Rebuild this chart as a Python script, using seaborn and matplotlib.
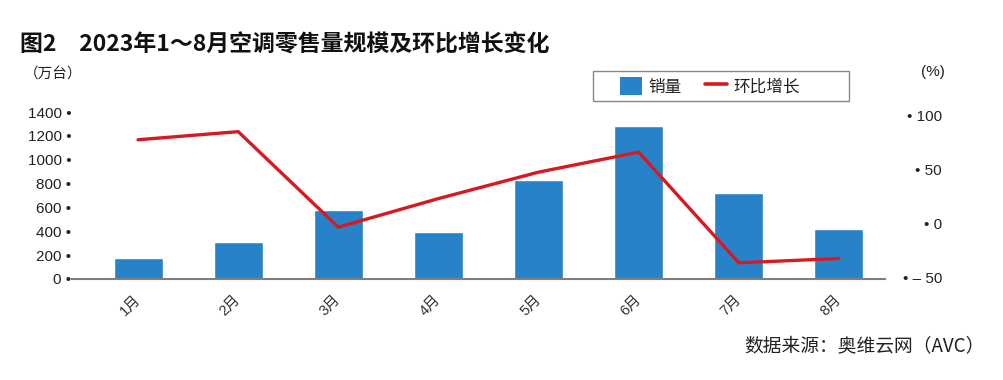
import numpy as np
import pandas as pd
import seaborn as sns
import matplotlib.pyplot as plt
from matplotlib.patches import Patch, Rectangle
from matplotlib.lines import Line2D

# Data
months = ["1月", "2月", "3月", "4月", "5月", "6月", "7月", "8月"]
sales = [175, 308, 575, 392, 833, 1283, 717, 417]      # 万台
mom_growth = [78, 85.5, -3, 23.5, 48, 66.5, -36, -32]   # %
left_ticks = [0, 200, 400, 600, 800, 1000, 1200, 1400]
right_ticks = [-50, 0, 50, 100]
right_labels = ["– 50", "0", "50", "100"]

df = pd.DataFrame({"month": months, "sales": sales, "mom": mom_growth})

blue = "#2882C8"
red = "#D71A22"

sns.set_theme(style="white")
plt.rcParams["font.family"] = ["Liberation Sans", "Noto Sans CJK SC", "DejaVu Sans"]

fig = plt.figure(figsize=(10.04, 3.8), dpi=100)
ax = fig.add_axes([72 / 1004, 101 / 380, 813 / 1004, 167 / 380])

# Bars: retail volume
sns.barplot(data=df, x="month", y="sales", color=blue, saturation=1,
            width=0.49, errorbar=None, ax=ax)
ax.set_xlim(-0.66, 7.46)
ax.set_ylim(0, 1400)
ax.set_yticks(left_ticks)
ax.set_yticklabels([f"{t} •" for t in left_ticks], fontsize=11, color="#222222")
ax.tick_params(axis="y", length=0, pad=0.5)
ax.set_xticks(range(len(months)))
ax.set_xticklabels(months, rotation=45, ha="right", va="center",
                   rotation_mode="anchor", fontsize=10.5, color="#333333")
ax.tick_params(axis="x", length=0, pad=13)
ax.set_xlabel("")
ax.set_ylabel("")
for side in ["left", "right", "top"]:
    ax.spines[side].set_visible(False)
ax.spines["bottom"].set_color("#808080")
ax.spines["bottom"].set_linewidth(1.5)

# Line: month-on-month growth on the right axis
ax2 = ax.twinx()
sns.lineplot(x=np.arange(len(months)), y=df["mom"], color=red, linewidth=2.4, ax=ax2)
ax2.set_ylim(-51, 103.7)
ax2.set_yticks(right_ticks)
ax2.set_yticklabels([f"• {l}" for l in right_labels], fontsize=11, color="#222222")
for lab in ax2.get_yticklabels():
    lab.set_ha("right")
ax2.tick_params(axis="y", length=0, pad=41)
ax2.set_ylabel("")
for side in ["left", "right", "top", "bottom"]:
    ax2.spines[side].set_visible(False)

# Texts
fig.text(20 / 1004, 1 - 45 / 380, "图2　2023年1～8月空调零售量规模及环比增长变化",
         fontsize=16.5, fontweight="bold", va="center", color="#111111",
         family=["Noto Sans CJK SC", "DejaVu Sans"])
fig.text(24 / 1004, 1 - 75 / 380, "（万台）", fontsize=10.5, va="center", color="#222222",
         family=["Noto Sans CJK SC", "DejaVu Sans"])
fig.text(945 / 1004, 1 - 72 / 380, "(%)", fontsize=11, va="center", ha="right", color="#222222")
fig.text(985 / 1004, 1 - 347 / 380, "数据来源：奥维云网（AVC）", fontsize=13.5, va="center",
         ha="right", color="#222222", family=["Noto Sans CJK SC", "DejaVu Sans"])

# Legend (frame drawn separately so the padding matches the reference)
handles = [Patch(facecolor=blue, edgecolor="none"), Line2D([0], [0], color=red, lw=2.6)]
leg = fig.legend(handles, ["销量", "环比增长"], loc="center left",
                 bbox_to_anchor=(620 / 1004, 1 - 86 / 380), ncol=2, frameon=False,
                 fontsize=12, handlelength=1.35, handleheight=1.3, columnspacing=1.4,
                 handletextpad=0.35, borderpad=0, borderaxespad=0)
for t in leg.get_texts():
    t.set_color("#222222")
fig.patches.append(Rectangle((593 / 1004, 1 - 101 / 380), 256 / 1004, 30 / 380,
                             transform=fig.transFigure, fill=False,
                             edgecolor="#888888", linewidth=1.0))

fig.savefig("out.png", dpi=100)
